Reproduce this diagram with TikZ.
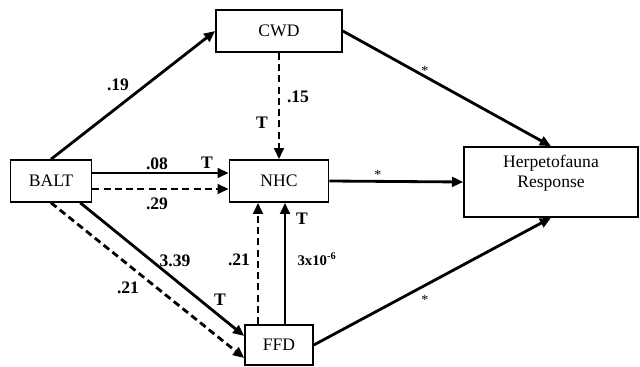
\documentclass[tikz,border=0pt]{standalone}
\usepackage{fontspec}
\setmainfont{Liberation Serif}
\usetikzlibrary{arrows.meta}

\tikzset{
  box/.style={draw, line width=1.1pt, minimum height=1.05cm, inner sep=0pt, font=\rmfamily\fontsize{12.5}{14}\selectfont},
  arr/.style={line width=2pt, -{Triangle[length=2.8mm,width=2.4mm]}},
  darr/.style={arr, dash pattern=on 5pt off 3pt},
  lbl/.style={font=\rmfamily\bfseries\fontsize{12.5}{14}\selectfont},
  star/.style={font=\rmfamily\normalsize},
}

\begin{document}
\begin{tikzpicture}[x=0.025cm, y=-0.025cm]
    \useasboundingbox (0,0) rectangle (640,367);
    \node[box, minimum width=3.15cm] (cwd) at (279,31) {CWD}; % CWD box
    \node[box, minimum width=2.025cm] (balt) at (51,181) {BALT}; % BALT box
    \node[box, minimum width=2.475cm] (nhc) at (279,181) {NHC}; % NHC box
    \node[box, minimum width=1.7cm, minimum height=1cm] (ffd) at (279,345) {FFD}; % FFD box
    \node[box, minimum width=4.35cm, minimum height=1.75cm, align=center, text depth=0.55cm] (herp) at (551,182) {Herpetofauna\\Response}; % response box

    \draw[arr] (balt.north) -- (cwd.west); % BALT to CWD
    \draw[darr] (cwd.south) -- (nhc.north); % CWD to NHC
    \draw[arr] ([yshift=2mm]balt.east) -- ([yshift=2mm]nhc.west); % BALT to NHC
    \draw[darr] ([yshift=-2mm]balt.east) -- ([yshift=-2mm]nhc.west); % BALT to NHC
    \draw[arr] ([xshift=-3mm]balt.south east) -- ([yshift=2.25mm]ffd.west); % BALT to FFD
    \draw[darr] (balt.south) -- ([yshift=-3.25mm]ffd.west); % BALT to FFD
    \draw[darr] ([xshift=-5.25mm]ffd.north) -- ([xshift=-5.25mm]nhc.south); % FFD to NHC
    \draw[arr] ([xshift=1.5mm]ffd.north) -- ([xshift=1.5mm]nhc.south); % FFD to NHC
    \draw[arr] (cwd.east) -- (herp.north); % CWD to response
    \draw[arr] (nhc.east) -- (herp.west); % NHC to response
    \draw[arr] (ffd.east) -- (herp.south); % FFD to response

    \node[lbl] (l19) at (118,85) {.19};
    \node[lbl] (l15) at (298,97) {.15};
    \node[lbl] (t1) at (262,123) {T};
    \node[lbl] (l08) at (157,164) {.08};
    \node[lbl] (t2) at (207,163) {T};
    \node[lbl] (l29) at (157,204) {.29};
    \node[lbl] (l339) at (175,261) {3.39};
    \node[lbl] (l21a) at (128,288) {.21};
    \node[lbl] (t3) at (220,300) {T};
    \node[lbl] (l21b) at (239,260) {.21};
    \node[lbl] (t4) at (302,219) {T};
    \node[lbl, font=\rmfamily\bfseries\fontsize{10.5}{12}\selectfont] (l3x) at (317,259) {3x10\textsuperscript{-6}};
    \node[star] (s1) at (425,71) {*};
    \node[star] (s2) at (378,175) {*};
    \node[star] (s3) at (425,300) {*};
\end{tikzpicture}
\end{document}
